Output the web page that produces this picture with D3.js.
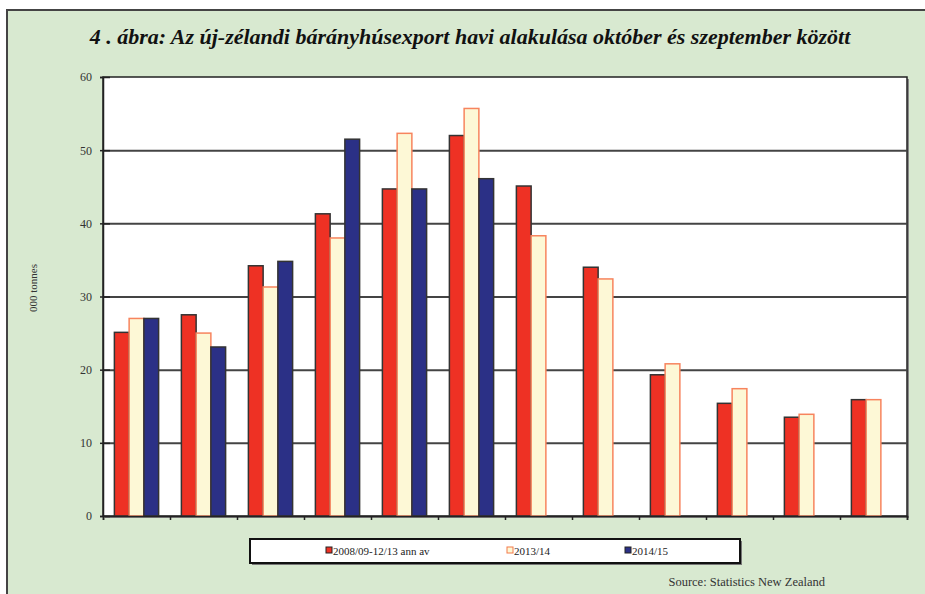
<!DOCTYPE html>
<html>
<head>
<meta charset="utf-8">
<script src="https://cdn.jsdelivr.net/npm/d3@7"></script>
<style>
  body { margin: 0; background: #fff; }
  svg text { font-family: "Liberation Serif", "DejaVu Serif", serif; }
</style>
</head>
<body>
<div id="chart"></div>
<script>
// Data (thousand tonnes), October..September
const months = ["Okt", "Nov", "Dec", "Jan", "Feb", "Mar", "Apr", "Máj", "Jún", "Júl", "Aug", "Szep"];
const seriesNames = ["2008/09-12/13 ann av", "2013/14", "2014/15"];
const avgValues = [25.1, 27.5, 34.2, 41.3, 44.7, 52.0, 45.1, 34.0, 19.3, 15.4, 13.5, 15.9];
const y1314Values = [27.0, 25.0, 31.3, 38.0, 52.3, 55.7, 38.3, 32.4, 20.8, 17.4, 13.9, 15.9];
const y1415Values = [27.0, 23.1, 34.8, 51.5, 44.7, 46.1, null, null, null, null, null, null];
const yTicks = [0, 10, 20, 30, 40, 50, 60];

const fills = ["#ee3124", "#fdf8d6", "#2b3086"];
const strokes = ["#333", "#f7845e", "#333"];

const W = 925, H = 594;
const margin = { top: 77, right: 18, bottom: 78, left: 103 };
const width = W - margin.left - margin.right;
const height = H - margin.top - margin.bottom;

const root = d3.select("#chart").append("svg")
  .attr("width", W)
  .attr("height", H);

// green panel with frame
root.append("rect")
  .attr("x", 0).attr("y", 0).attr("width", W).attr("height", H)
  .attr("fill", "#fff");
root.append("rect")
  .attr("x", 7).attr("y", 10).attr("width", W).attr("height", H)
  .attr("fill", "#d8e9d0")
  .attr("stroke", "#444")
  .attr("stroke-width", 2);

// title
root.append("text")
  .attr("x", 470)
  .attr("y", 44)
  .attr("text-anchor", "middle")
  .attr("font-size", 22)
  .attr("font-weight", "bold")
  .attr("font-style", "italic")
  .attr("fill", "#111")
  .text("4 . ábra:  Az új-zélandi bárányhúsexport havi alakulása október és szeptember között");

const svg = root.append("g")
  .attr("transform", `translate(${margin.left},${margin.top})`);

const x0 = d3.scaleBand().domain(months).range([0, width]).paddingInner(0.34).paddingOuter(0.17);
const x1 = d3.scaleBand().domain(d3.range(3)).range([0, x0.bandwidth()]);
const y = d3.scaleLinear().domain([0, 60]).range([height, 0]);

// plot area with shadow
svg.append("rect")
  .attr("x", 2).attr("y", 2).attr("width", width).attr("height", height)
  .attr("fill", "#888");
svg.append("rect")
  .attr("width", width).attr("height", height)
  .attr("fill", "#fff")
  .attr("stroke", "#222")
  .attr("stroke-width", 1.5);

// gridlines
svg.append("g")
  .call(d3.axisLeft(y).tickValues(yTicks.slice(1, -1)).tickSize(-width).tickFormat(""))
  .call(g => g.select(".domain").remove())
  .call(g => g.selectAll("line").attr("stroke", "#444").attr("stroke-width", 2));

// bars
const series = [avgValues, y1314Values, y1415Values];
const groups = svg.append("g").selectAll("g")
  .data(months)
  .join("g")
  .attr("transform", d => `translate(${x0(d)},0)`);

groups.selectAll("rect")
  .data((d, i) => series.map((s, k) => ({ k, v: s[i] })).filter(e => e.v != null))
  .join("rect")
  .attr("x", d => x1(d.k))
  .attr("y", d => y(d.v))
  .attr("width", x1.bandwidth())
  .attr("height", d => height - y(d.v))
  .attr("fill", d => fills[d.k])
  .attr("stroke", d => strokes[d.k])
  .attr("stroke-width", 1.5);

// y axis
svg.append("g")
  .call(d3.axisLeft(y).tickValues(yTicks).tickSize(3))
  .call(g => g.select(".domain").attr("stroke", "#222").attr("stroke-width", 1.5))
  .call(g => g.selectAll("line").attr("stroke", "#222").attr("stroke-width", 1.5).attr("x2", 7).attr("x1", -3))
  .call(g => g.selectAll("text").attr("x", -11).attr("font-size", 12).attr("fill", "#333")
    .attr("font-family", "Liberation Serif, serif"));

// x axis ticks at group boundaries
const xTick = d3.scaleLinear().domain([0, months.length]).range([0, width]);
svg.append("g")
  .attr("transform", `translate(0,${height})`)
  .call(d3.axisBottom(xTick).ticks(12).tickSize(4).tickFormat(""))
  .call(g => g.select(".domain").attr("stroke", "#222").attr("stroke-width", 1.5))
  .call(g => g.selectAll("line").attr("stroke", "#222").attr("stroke-width", 1.5));

// y label
root.append("text")
  .attr("transform", "translate(37,288) rotate(-90)")
  .attr("text-anchor", "middle")
  .attr("font-size", 11)
  .attr("fill", "#333")
  .text("000 tonnes");

// legend
const legend = root.append("g").attr("transform", "translate(250,539)");
legend.append("rect")
  .attr("x", 2).attr("y", 2).attr("width", 490).attr("height", 24)
  .attr("fill", "#777");
legend.append("rect")
  .attr("width", 490).attr("height", 24)
  .attr("fill", "#fff")
  .attr("stroke", "#111")
  .attr("stroke-width", 2);
const legendX = [76, 257, 375];
const items = legend.selectAll("g.item")
  .data(seriesNames)
  .join("g")
  .attr("class", "item")
  .attr("transform", (d, i) => `translate(${legendX[i]},12)`);
items.append("rect")
  .attr("x", 0).attr("y", -4).attr("width", 6).attr("height", 6)
  .attr("fill", (d, i) => fills[i])
  .attr("stroke", (d, i) => i === 1 ? "#f47a4a" : "#222")
  .attr("stroke-width", 1);
items.append("text")
  .attr("x", 7)
  .attr("y", 4)
  .attr("font-size", 11)
  .attr("fill", "#222")
  .text(d => d);

// source
root.append("text")
  .attr("x", 825)
  .attr("y", 586)
  .attr("text-anchor", "end")
  .attr("font-size", 12.5)
  .attr("fill", "#333")
  .text("Source: Statistics New Zealand");
</script>
</body>
</html>
